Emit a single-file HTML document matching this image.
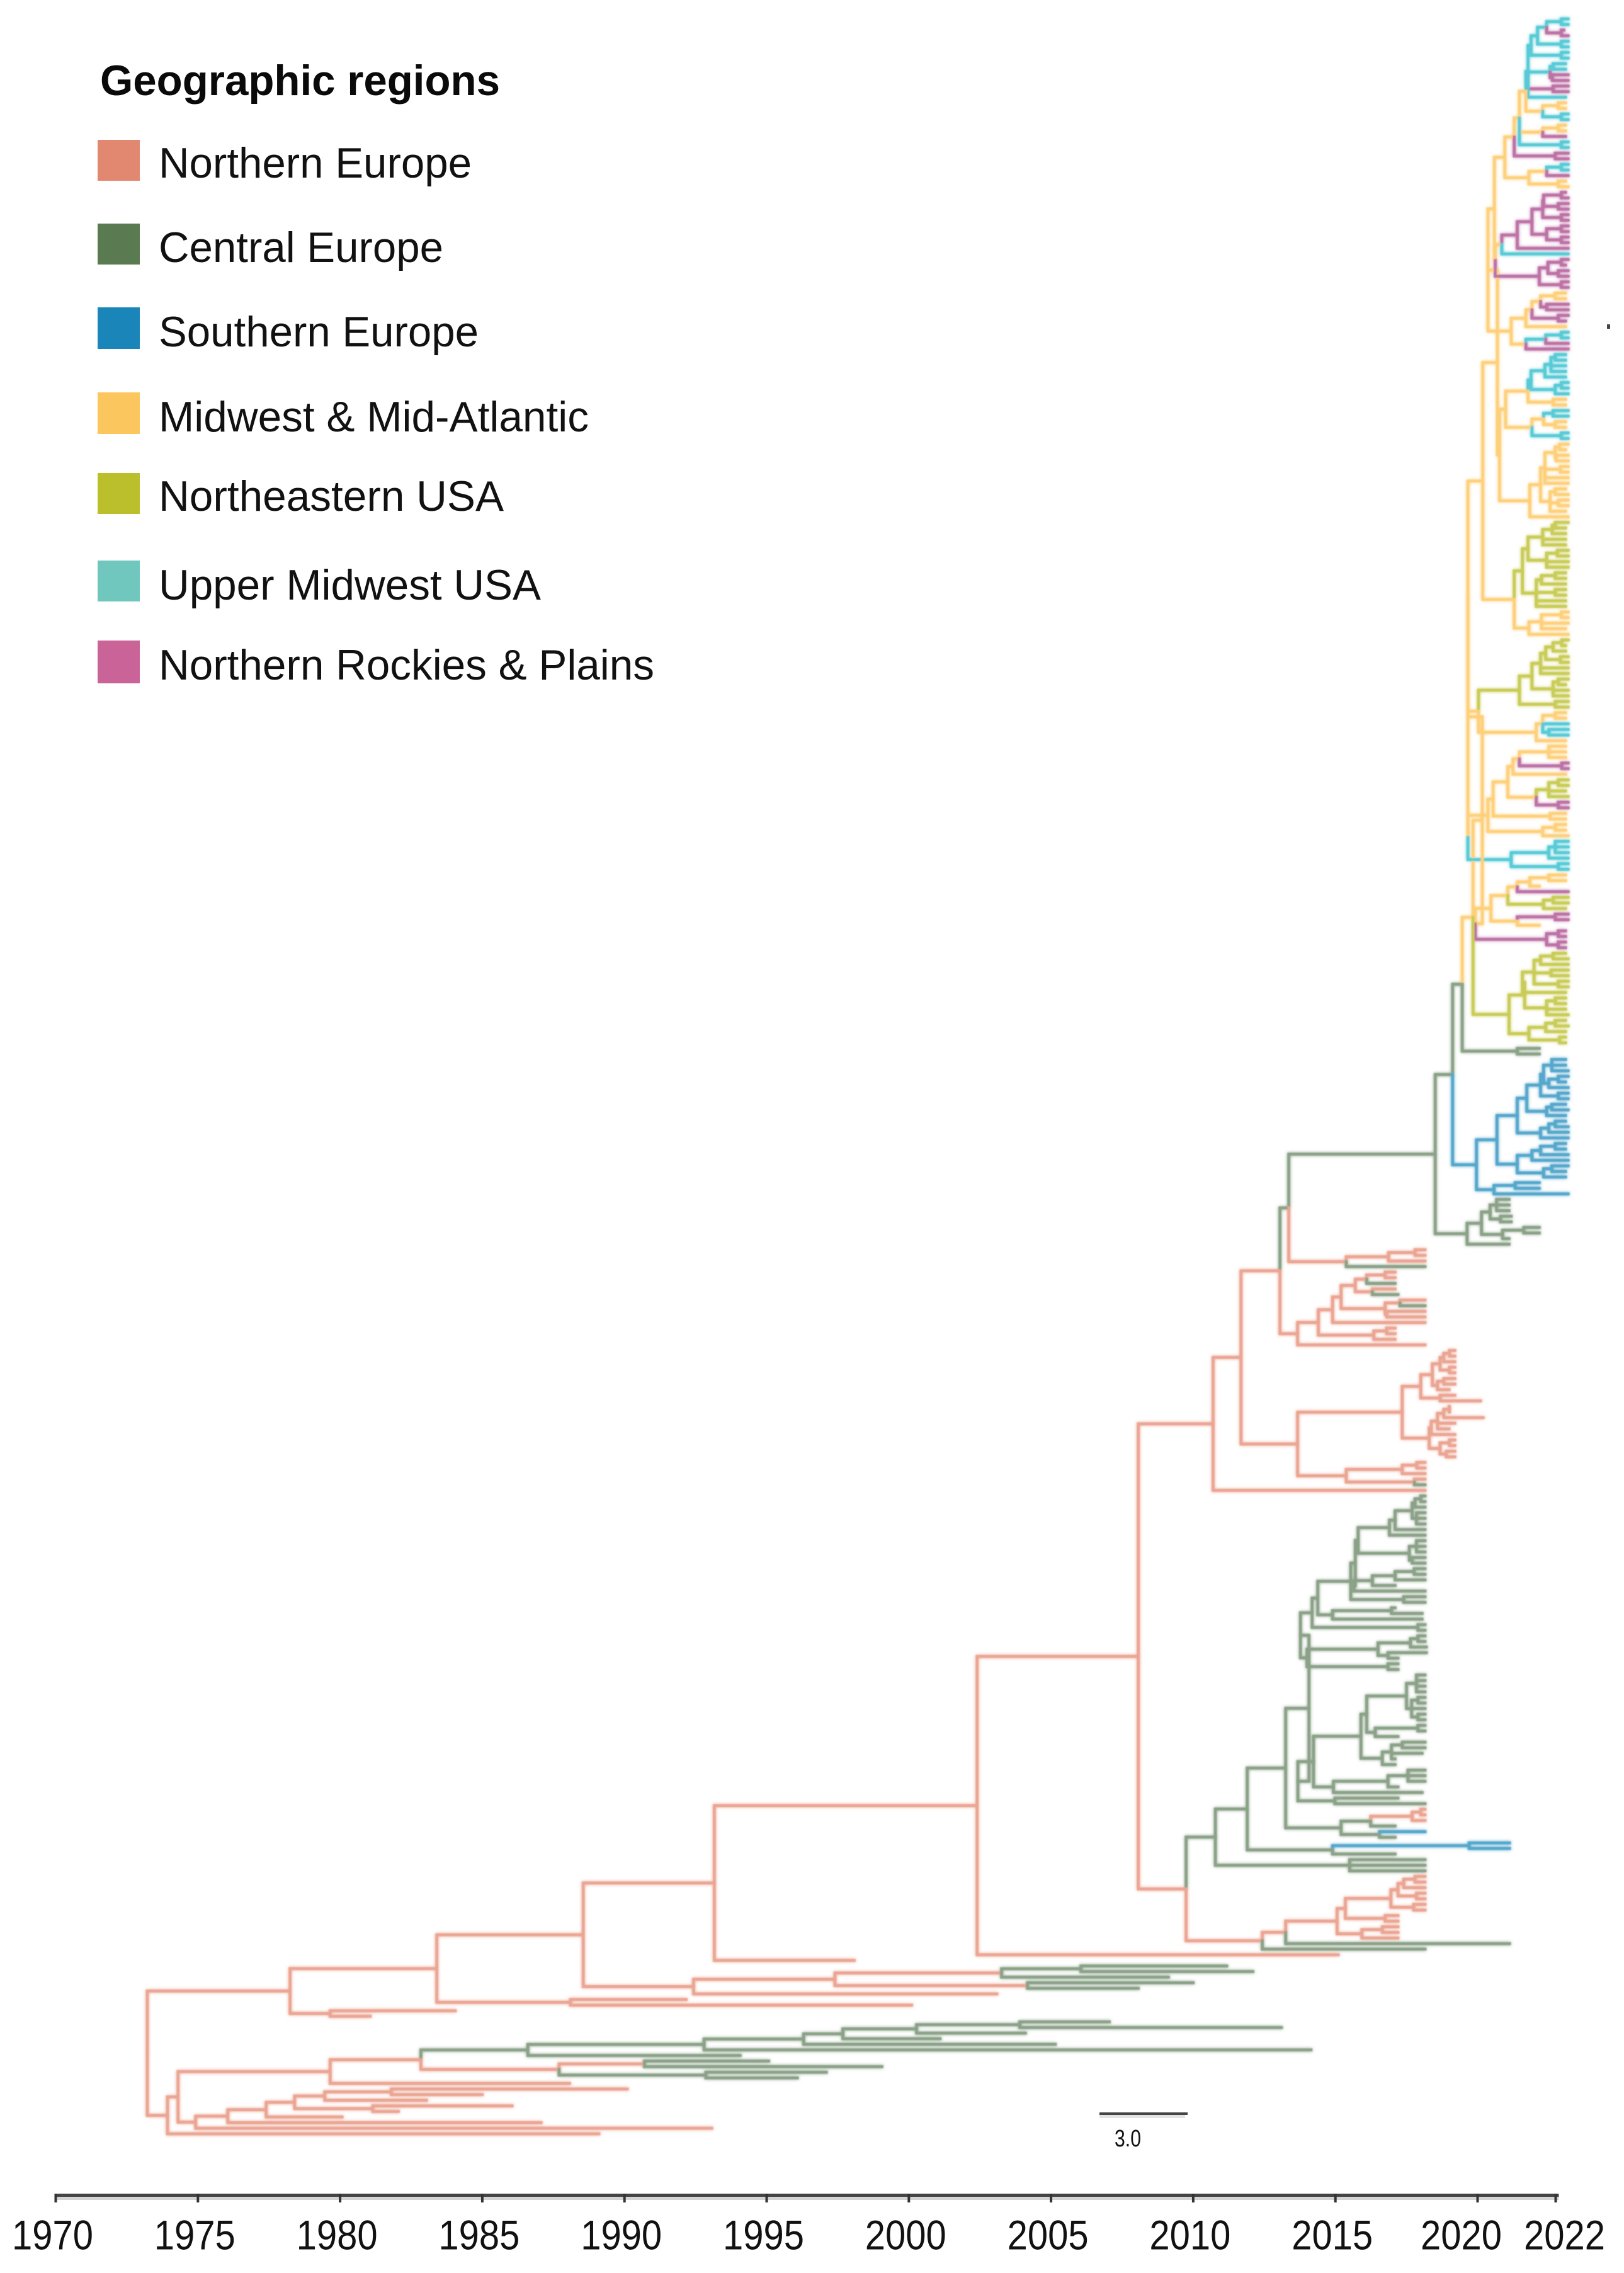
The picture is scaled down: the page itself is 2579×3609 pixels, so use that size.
<!DOCTYPE html>
<html lang="en">
<head>
<meta charset="utf-8">
<title>Time-scaled phylogeny by geographic region</title>
<style>
html,body{margin:0;padding:0;background:#fff;}
svg{display:block;font-family:"Liberation Sans",sans-serif;}
</style>
</head>
<body>
<svg id="chart" xmlns="http://www.w3.org/2000/svg" width="2579" height="3609" viewBox="0 0 2579 3609">
<defs><filter id="soft" filterUnits="userSpaceOnUse" x="0" y="0" width="2579" height="3609"><feGaussianBlur in="SourceGraphic" stdDeviation="2.6" result="halo"/><feGaussianBlur in="SourceGraphic" stdDeviation="0.7" result="core"/><feMerge><feMergeNode in="halo"/><feMergeNode in="core"/></feMerge></filter></defs>
<rect width="2579" height="3609" fill="#fff"/>
<g id="tree-layer" filter="url(#soft)" fill="none" stroke-linejoin="miter" stroke-linecap="square"></g>
<g>
<text x="159" y="151" font-size="68" font-weight="bold" fill="#0a0a0a" textLength="635" lengthAdjust="spacingAndGlyphs">Geographic regions</text>
<rect x="155" y="222" width="67" height="65" fill="#e28871"/>
<text x="252" y="282" font-size="68" fill="#111" textLength="497" lengthAdjust="spacingAndGlyphs">Northern Europe</text>
<rect x="155" y="355" width="67" height="65" fill="#5a7a52"/>
<text x="252" y="416" font-size="68" fill="#111" textLength="452" lengthAdjust="spacingAndGlyphs">Central Europe</text>
<rect x="155" y="488" width="67" height="66" fill="#1a85b8"/>
<text x="252" y="550" font-size="68" fill="#111" textLength="508" lengthAdjust="spacingAndGlyphs">Southern Europe</text>
<rect x="155" y="623" width="67" height="66" fill="#fcc65e"/>
<text x="252" y="685" font-size="68" fill="#111" textLength="683" lengthAdjust="spacingAndGlyphs">Midwest &amp; Mid-Atlantic</text>
<rect x="155" y="751" width="67" height="65" fill="#bcbf2c"/>
<text x="252" y="811" font-size="68" fill="#111" textLength="548" lengthAdjust="spacingAndGlyphs">Northeastern USA</text>
<rect x="155" y="890" width="67" height="65" fill="#6fc7bd"/>
<text x="252" y="952" font-size="68" fill="#111" textLength="607" lengthAdjust="spacingAndGlyphs">Upper Midwest USA</text>
<rect x="155" y="1017" width="67" height="68" fill="#ca6498"/>
<text x="252" y="1079" font-size="68" fill="#111" textLength="787" lengthAdjust="spacingAndGlyphs">Northern Rockies &amp; Plains</text>
</g>
<rect x="1746" y="3354" width="140" height="4" fill="#444"/>
<rect x="1746" y="3358" width="136" height="5" fill="#e2e4e2"/>
<text x="1770" y="3408" font-size="38" fill="#111" textLength="42" lengthAdjust="spacingAndGlyphs">3.0</text>
<rect x="2552" y="515" width="5" height="7" fill="#444"/>
<g id="axis-layer"></g>
</svg>
<script>
// Axis ticks as printed on the reference.
const tickYears = [1970,1975,1980,1985,1990,1995,2000,2005,2010,2015,2020,2022];
const regionNames = ["Northern Europe","Central Europe","Southern Europe","Midwest & Mid-Atlantic","Northeastern USA","Upper Midwest USA","Northern Rockies & Plains"];
const regionStroke = ["#eba593","#8ba288","#56a7cc","#fed07c","#c9cc58","#58cbd6","#bd72a6"];
const treeEpoch = 2000;

// Tree values: node = [years after treeEpoch, region index, ...children]; leaf = number (parent's region) or [years, region].
const usaTop = [21.12,3,[21.17,5,[21.24,5,[21.39,5,[21.46,5,[21.6,5,[21.94,5,22.1,22.1],[21.94,6,22,22.1]]],[21.94,5,22.1,22.1]],[21.94,5,22.1,22.1]],[21.68,5,[21.75,5,22.04,22.04],[21.73,6,22.1,22.1]],[21.75,6,22.1,22.1],22.04],[21.51,3,[21.87,3,22.04,22.04],[21.94,5,22.1,22.1]]];
const usaL = [20.39,3,[20.63,3,[20.85,3,[20.97,3,usaTop,[21.51,3,[21.87,3,22.04,22.04],[22.04,6]],[21.94,5,22.1,22.1]],[21.8,6,22.1,22.1]],[21.19,3,[21.6,3,[21.94,5,22.1,22.1],[22.1,6]],[21.87,3,22.04,22.1]]],[20.41,3,[20.56,3,[20.92,6,[21.26,6,[21.51,6,[21.53,6,[21.94,6,22.04,22.1],[21.87,6,22.1,22.1]],[21.94,6,22.1,22.1]],[21.6,6,[21.94,6,22.1,22.1],[21.94,6,22.1,22.1]]],22.1],[22.1,5]],[21.43,6,[21.63,6,[21.94,6,22.1,22.04],[21.87,6,22.1,22.1]],[21.94,6,22.1,22.1]]]];
const usaK = [20.24,3,usaL,[20.78,3,[21.12,3,[21.26,3,[21.46,3,[21.8,3,22.04,22.04],[21.6,6,22.1,22.1]],[21.87,6,22.1,22.04]],22.04],[21.12,3,[21.58,5,[21.94,5,22.1,22.1],[22.1,6]],[22.1,6]]]];
const usaP575 = [20.65,3,[21.17,3,[21.24,5,[21.56,5,[21.7,5,[21.8,5,22.04,22.04],22.04,22.04],[21.94,5,22.04]],[21.8,5,[21.94,5,22.1,22.1],22.1]],[21.75,3,22.04,22.04]],[21.26,3,[21.53,3,[21.75,5,22.1,22.1],[21.8,3,22.04,22.04]],[21.94,5,22.1,22.1]]];
const usaP690 = [21.21,3,[21.46,3,[21.56,3,[21.8,3,[21.9,3,22.1,22.04],[21.82,3,22.1,22.1]],[21.92,3,22.1,22.1],22.1,22.1],[21.68,3,[21.8,3,22.04,22.1],[21.87,3,22.1,22.1],22.04]],22.1];
const usaJ = [20.46,3,usaK,[20.51,3,usaP575,usaP690]];
const olive615 = [20.85,3,[21.04,4,[21.17,4,[21.51,4,[21.73,4,[21.8,4,22.1,22.04],22.04],22.04,22.04],[21.46,4,[21.6,4,[21.85,4,22.1,22.1],22.1,22.1]]],[21.36,4,[21.48,4,[21.8,4,22.04,22.04],22.04],[21.8,4,22.04,22.04],22.04,22.04]],[21.19,3,[21.48,3,[21.94,3,22.1,22.1],22.1,22.04],22.1]];
const usaW = [19.66,3,[20.12,3,usaJ,olive615],[20.02,3,[20.97,4,[21.26,4,[21.46,4,[21.58,4,[21.75,4,[21.95,4,22.1,22.04],22.04],[21.92,4,22.1,22.1]],22.1,22.1],[21.75,4,[21.87,4,22.1,22.04],22.1,22.1]],[21.8,4,22.1,22.1]],[21.36,3,[21.51,3,[21.8,3,22.04,22.04],[22.1,5],[21.65,5,22.1,22.1]],22.04]]];
const usaX = [19.66,3,[20.24,3,[20.36,3,[20.7,3,[20.82,3,[20.97,3,[21.65,3,22.04,22.04,22.04],[21.95,6,22.1,22.1]],22.04],[21.36,3,[21.65,4,[21.87,4,22.1,22.1],22.04,22.1],[21.87,6,22.1,22.1]]],[21.68,3,22.04,22.04]],[21.51,3,[21.8,3,22.04,22.04],22.1]],[20.78,5,[21.65,5,[21.8,5,22.1,22.1,22.1],22.1],[21.87,5,22.1,22.1]]];
const usaLow = [19.92,3,[20.31,3,[20.7,3,[20.92,3,[21.21,3,[21.65,3,22.04,22.04],21.43],[22.1,6]],[21.53,4,[21.75,4,22.1,22.1],22.04]],[20.92,3,[21.8,6,22.1,22.1],21.43]],[21.6,6,[21.87,6,22.04,22.04],[21.87,6,22.04,22.04]]];
const olive590 = [20.73,4,[21.09,4,[21.04,4,[21.31,4,[21.46,4,[21.75,4,22.04,22.1],22.1],[21.7,4,22.1,22.1],[21.87,4,22.1,22.1]],22.04],[21.6,4,[21.8,4,22.04,22.04],22.04,22.1]],[21.19,4,[21.58,4,[21.8,4,22.04,22.1],22.04],[21.9,4,22.04,22.04]]];
const usaRoot = [19.46,1,[19.84,3,[20.11,3,[19.66,3,usaW,usaX],usaLow],olive590],[20.92,1,21.43,21.43]];
const southernEurope = [19.96,2,[20.45,2,[20.92,2,[21.14,2,[21.46,2,[21.53,2,[21.72,2,22.04,22.04,22.1],[21.65,2,[21.87,2,22.1,22.04],22.1]],[21.87,2,22.1,22.1]],[21.6,2,[21.72,2,22.04,22.1],22.04]],[21.46,2,[21.65,2,[21.8,2,22.04,22.1],22.1],22.1]],[20.92,2,[21.26,2,[21.46,2,[21.8,2,22.04,22.04],22.1],22.1],[21.53,2,[21.72,2,22.1,22.04],22.04]]],[20.38,2,[20.87,2,21.43,21.43],22.1]];
const centralSmall = [19.63,1,[20.09,1,[20.29,1,[20.44,1,20.73,20.73,20.73],[20.53,1,20.78,20.78]],[20.58,1,[21.07,1,21.43,21.43],20.73]],20.73];
const euroA = [13.05,0,[13.36,1,[18.51,1,[19.12,1,usaRoot,southernEurope],centralSmall],[15.38,0,[16.87,0,[17.8,0,18.15,18.15],18.15],[18.15,1]]],[13.67,0,[14.4,0,[14.9,0,[15.2,0,[15.7,0,[16.1,0,[16.75,0,17.1,17.1],[17.1,1]],[16.3,0,17.1,[17.2,1]]],[16.75,0,[17.27,0,18.15,[18.15,1]],[16.8,0,18.15,18.15]]],18.15],[16.35,0,[16.8,0,17.1,17.1],17.1]],18.15]];
const euroB = [13.67,0,[17.35,0,[18,0,[18.41,0,[18.68,0,[18.81,0,[19.01,0,19.2,19.2],19.2],[19.01,0,19.2,19.2]],[18.59,0,[18.81,0,19.2,19.2],19]],[18.68,0,19.2,20.07]],[18.3,0,[18.37,0,[18.59,0,[18.81,0,[19.01,0,19,19],20.13],19.2,19],19.2],[18.68,0,[19.01,0,19.2,19.2],[18.9,0,19.2,19.2]]]],[15.38,0,[17.35,0,[17.86,0,18.15,18.15],18.15],[17.78,0,18.15,[18.15,1]]]];
const greenUpper = [15.54,1,[15.7,1,[15.8,1,[16.9,1,[17.1,1,[17.7,1,[17.8,1,[18,1,18.15,18.15],18.15],[17.85,1,18.15,18.15,18.15]],18.15],18.15],[17.6,1,[17.85,1,18.15,18.15,18.15],[17.7,1,18.15,18.15]]],[15.65,1,[16.3,1,[17.1,1,[17.77,1,18.15,18.15],18.15],17.1],18.15]],[17.4,1,18.15,18.15]];
const greenMid = [13.77,1,[14.18,1,[14.38,1,greenUpper,[14.9,1,[16.97,1,17.1,18.05],18.05]],[17.9,1,18.15,18.15]],[14,1,[16.5,1,[17.64,1,[17.9,1,18.15,18.15],18.2],[16.85,1,18.2,17.2]],[16.85,1,17.2,17.2]]];
const greenLow = [13.68,1,[14.23,1,[15.9,1,[16.1,1,[17.5,1,[17.68,1,[17.85,1,18.15,18.15,18.15,18.15]],[17.68,1,[17.9,1,18.15,18.15],18.15,[17.9,1,18.15,18.15]]],[16.4,1,[17.9,1,18.15,18.15],17.2]],[16.65,1,[16.97,1,[17.35,1,18.15,18.15],18.05,17.1],17.1]],[14.93,1,[16.85,1,[17.55,1,18.15,18.15,18.15],17.2],18.05]],[14.98,1,17.2,18.15]];
const greenBig = [10.78,1,[11.9,1,[13.25,1,[14.07,1,greenMid,greenLow],[15.2,1,[16.24,1,[17.7,0,[18,0,18.15,18.15],18.15],17.1],[16.55,1,[18.15,2],17.1]]],[14.9,1,[19.7,2,20.74,20.74],17.1]],[15.5,1,18.15,18.15,18.15]];
const salmonLow = [12.43,0,[13.25,0,[15.06,0,[15.35,0,[16.95,0,[17.2,0,[17.4,0,[17.8,0,18.15,18.15],18.15],[17.85,0,18.15,18.15]],[17.75,0,18.15,18.15]],[16.75,0,17.2,17.2]],[15.93,0,[16.65,0,17.2,17.2],17.2]],[20.74,1]],[18.15,1]];
const node2002 = [2.4,0,[8.07,0,[10.7,0,[11.68,0,euroA,euroB],18.15],[9.75,0,greenBig,salmonLow]],15.1];
const node1988 = [-11.45,0,[-6.84,0,node2002,-1.92],[-7.57,0,[-2.6,0,[3.26,0,[6.05,1,11.18,12.1],[9.13,1]],[4.17,0,[10,1],[8.07,1]]],3.1]];
const nodeBottom = [-26.07,0,[-25.7,0,[-20.35,0,[-17.16,0,[-13.4,1,[-7.2,1,[-3.7,1,[-2.32,1,[0.27,1,[3.9,1,7.05,13.1],4.1],1.1],5.15],14.14],-5.93],[-12.3,0,[-9.3,0,[-4.93,1],[-0.95,1]],[-7.14,1,-2.9,-3.92]]],-11.93],[-25.08,0,[-23.95,0,[-22.6,0,[-21.6,0,[-20.54,0,[-18.2,0,-9.9,-15],-16.96],[-18.85,0,-13.95,-17.95]],-19.93],-12.93],-6.93]],-10.9];
const tree = [-26.78,0,[-21.76,0,[-16.6,0,node1988,[-11.9,0,-7.83,0.1]],[-20.35,0,-15.95,-18.94]],nodeBottom];

const SVGNS = "http://www.w3.org/2000/svg";
const rowTop = 30, rowBottom = 3388;

// Time axis: uniform to 2020; the final printed interval is wider than the others.
function axisX(year){
  return year <= 2020 ? 88.5 + 45.16 * (year - 1970) : 2346.5 + 62 * (year - 2020);
}
// Branch positions: tips after 2020 run slightly past the printed 2022 tick on the reference.
function branchX(year){
  return year <= 2020 ? axisX(year) : 2346.5 + 68.5 * (year - 2020);
}
function labelX(year){
  if (year === 2022) return axisX(year) + 14;
  if (year === 2020) return axisX(year) - 26;
  return axisX(year) - 5;
}
function countLeaves(n){
  if (typeof n === "number" || n.length === 2) return 1;
  let c = 0;
  for (let i = 2; i < n.length; i++) c += countLeaves(n[i]);
  return c;
}
const leafTotal = countLeaves(tree);
const rowStep = (rowBottom - rowTop) / (leafTotal - 1);
function yOf(row){ return rowTop + row * rowStep; }

let nextRow = 0;
const segments = [];
function layout(n, inherited){
  if (typeof n === "number") return {x: branchX(treeEpoch + n), y: yOf(nextRow++), c: inherited, kids: []};
  if (n.length === 2) return {x: branchX(treeEpoch + n[0]), y: yOf(nextRow++), c: n[1], kids: []};
  const kids = [];
  for (let i = 2; i < n.length; i++) kids.push(layout(n[i], n[1]));
  const y = (kids[0].y + kids[kids.length - 1].y) / 2;
  return {x: branchX(treeEpoch + n[0]), y: y, c: n[1], kids: kids};
}
function collect(node){
  node.kids.forEach(function(k){
    segments.push({d: "M" + node.x.toFixed(1) + " " + node.y.toFixed(1) + "V" + k.y.toFixed(1) + "H" + k.x.toFixed(1), c: k.c});
    collect(k);
  });
}
const rootLayout = layout(tree, 0);
collect(rootLayout);

const treeLayer = document.getElementById("tree-layer");
segments.forEach(function(s){
  const p = document.createElementNS(SVGNS, "path");
  p.setAttribute("d", s.d);
  p.setAttribute("stroke", regionStroke[s.c]);
  p.setAttribute("stroke-width", "4.5");
  
  
  treeLayer.appendChild(p);
});

const axisLayer = document.getElementById("axis-layer");
const axisY = 3483;
const axisEnd = axisX(2022) + 5;
const axisShadow = document.createElementNS(SVGNS, "rect");
axisShadow.setAttribute("x", axisX(1970));
axisShadow.setAttribute("y", axisY + 5);
axisShadow.setAttribute("width", axisEnd - axisX(1970));
axisShadow.setAttribute("height", 5);
axisShadow.setAttribute("fill", "#d4d4d4");


axisLayer.appendChild(axisShadow);
const axisLine = document.createElementNS(SVGNS, "rect");
axisLine.setAttribute("x", axisX(1970));
axisLine.setAttribute("y", axisY);
axisLine.setAttribute("width", axisEnd - axisX(1970));
axisLine.setAttribute("height", 5);
axisLine.setAttribute("fill", "#444");


axisLayer.appendChild(axisLine);
tickYears.forEach(function(yr){
  const t = document.createElementNS(SVGNS, "rect");
  t.setAttribute("x", axisX(yr) - 2);
  t.setAttribute("y", axisY);
  t.setAttribute("width", 4);
  t.setAttribute("height", 14);
  t.setAttribute("fill", "#333");
  
  
  axisLayer.appendChild(t);
  const l = document.createElementNS(SVGNS, "text");
  l.setAttribute("x", labelX(yr));
  l.setAttribute("y", 3571.5);
  l.setAttribute("text-anchor", "middle");
  l.setAttribute("font-size", "66");
  l.setAttribute("fill", "#111");
  l.setAttribute("textLength", "129");
  l.setAttribute("lengthAdjust", "spacingAndGlyphs");
  
  
  l.textContent = String(yr);
  axisLayer.appendChild(l);
});
</script>
</body>
</html>
